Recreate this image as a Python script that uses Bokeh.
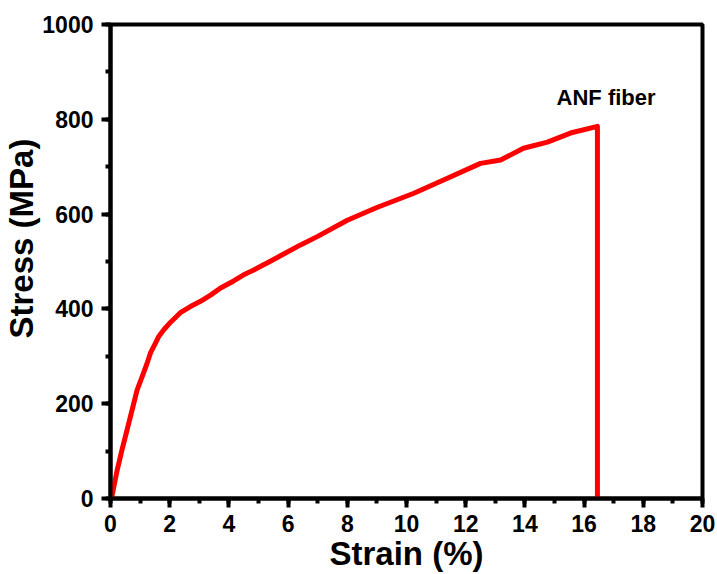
from bokeh.plotting import figure
from bokeh.models import Range1d, Label, SingleIntervalTicker, Title
from bokeh.embed import file_html
from bokeh.resources import INLINE

# Data
strain = [0, 0.05, 0.23, 0.39, 0.56, 0.73, 0.9, 1.07, 1.24, 1.35, 1.52, 1.63,
          1.8, 2.03, 2.36, 2.7, 3.04, 3.38, 3.72, 4.16, 4.5, 4.84, 5.17, 5.29,
          5.74, 6.42, 7.0, 8.0, 9.0, 10.25, 11.25, 12.5, 13.18, 13.95,
          14.76, 15.54, 16.45, 16.45]
stress = [0, 5, 61, 103, 145, 187, 229, 257, 286, 307, 328, 342,
          356, 372, 392, 405, 416, 429, 444, 459, 472, 482, 493, 497,
          512, 535, 553, 587, 614, 644, 672, 707, 714, 739,
          752, 771, 785, 0]

x_ticks = [0, 2, 4, 6, 8, 10, 12, 14, 16, 18, 20]
y_ticks = [0, 200, 400, 600, 800, 1000]
series_label = "ANF fiber"
x_title = "Strain (%)"
y_title = "Stress (MPa)"

FONT = "Liberation Sans"

p = figure(width=717, height=574, output_backend="svg", toolbar_location=None,
           x_range=Range1d(0, 20), y_range=Range1d(0, 1000),
           min_border_left=110, min_border_right=15, min_border_top=24,
           min_border_bottom=75)

p.line(strain, stress, line_color="#ff0000", line_width=5,
       line_join="round")

p.xgrid.visible = False
p.ygrid.visible = False
p.outline_line_color = "black"
p.outline_line_width = 4
p.background_fill_color = "white"
p.border_fill_color = "white"

p.xaxis.ticker = SingleIntervalTicker(interval=2, num_minor_ticks=2)
p.yaxis.ticker = SingleIntervalTicker(interval=200, num_minor_ticks=2)

for ax in (p.xaxis[0], p.yaxis[0]):
    ax.axis_line_width = 4
    ax.axis_line_color = "black"
    ax.major_tick_line_width = 4
    ax.major_tick_line_color = "black"
    ax.minor_tick_line_width = 4
    ax.minor_tick_line_color = "black"
    ax.major_tick_out = 9
    ax.major_tick_in = 0
    ax.minor_tick_out = 5
    ax.minor_tick_in = 0
    ax.major_label_text_font = FONT
    ax.major_label_text_font_style = "bold"
    ax.major_label_text_font_size = "23px"
    ax.major_label_text_color = "black"

p.xaxis.major_label_standoff = 7
p.yaxis.major_label_standoff = 8

p.xaxis.axis_label = x_title
p.xaxis.axis_label_text_font = FONT
p.xaxis.axis_label_text_font_style = "bold"
p.xaxis.axis_label_text_font_size = "33px"
p.xaxis.axis_label_text_color = "black"
p.xaxis.axis_label_standoff = 0

ytitle = Title(text=y_title, align="left", offset=160,
               text_font=FONT, text_font_style="bold", text_font_size="33px",
               text_color="black", standoff=0)
p.add_layout(ytitle, "left")

ann = Label(x=15.07, y=846, text=series_label, text_align="left",
            text_baseline="alphabetic", text_font=FONT,
            text_font_style="bold", text_font_size="22px", text_color="black")
p.add_layout(ann)

open("out.html", "w").write(file_html(p, INLINE))
